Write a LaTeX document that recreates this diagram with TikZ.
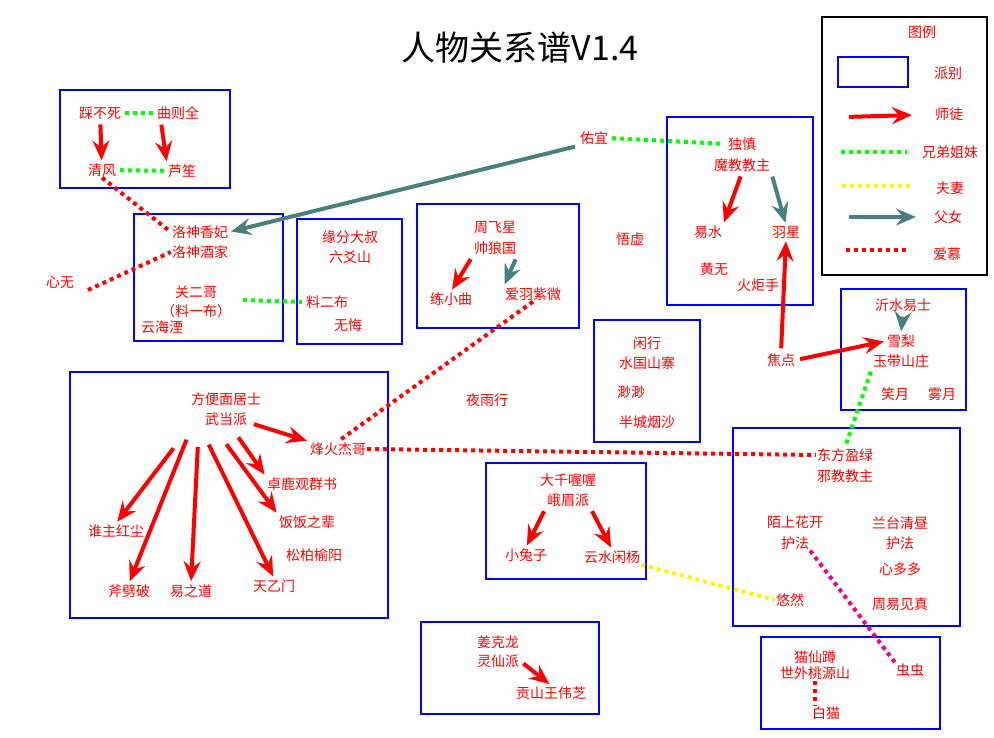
\documentclass[tikz,border=0pt]{standalone}
\usepackage{fontspec}
\setmainfont{Noto Sans CJK SC}
\usetikzlibrary{arrows.meta}
\definecolor{fathercol}{RGB}{72,128,128}
\tikzset{
  person/.style={text=red, inner sep=1pt, font=\fontsize{14}{16}\selectfont, align=center},
  faction/.style={draw=blue, line width=2pt},
  mentor/.style={draw=red, line width=4pt, -{Stealth[length=20pt,width=17pt,inset=7pt]}, shorten <=4pt, shorten >=2pt},
  father/.style={draw=fathercol, line width=4pt, -{Stealth[length=20pt,width=17pt,inset=7pt]}, shorten <=4pt, shorten >=2pt},
  sibling/.style={draw=green, line width=4pt, dash pattern=on 4pt off 4pt, shorten <=3pt, shorten >=3pt},
  spouse/.style={draw=yellow, line width=4pt, dash pattern=on 4pt off 4pt},
  love/.style={draw=red, line width=4pt, dash pattern=on 4pt off 4pt},
  crush/.style={draw=magenta, line width=4pt, dash pattern=on 4pt off 4pt}
}
\begin{document}
\begin{tikzpicture}[x=1pt, y=-1pt]
  \useasboundingbox (0,0) rectangle (994,738);
  \node[font=\fontsize{34}{36}\selectfont] (title) at (520,48) {人物关系谱V1.4};

  % legend
  \draw[black, line width=2.5pt] (822,17) rectangle (987,275);
  \node[person] (lgtitle) at (922,32) {图例};
  \draw[faction] (838,57) rectangle (908,87);
  \node[person] (lgfaction) at (948,73) {派别};
  \coordinate (lga1) at (845,117); \coordinate (lga2) at (914,115);
  \draw[mentor] (lga1) -- (lga2);
  \node[person] (lgmentor) at (949,114) {师徒};
  \coordinate (lgb1) at (838,152); \coordinate (lgb2) at (910,152);
  \draw[sibling] (lgb1) -- (lgb2);
  \node[person] (lgsibling) at (950,152) {兄弟姐妹};
  \coordinate (lgc1) at (842,186); \coordinate (lgc2) at (910,186);
  \draw[spouse] (lgc1) -- (lgc2);
  \node[person] (lgspouse) at (950,188) {夫妻};
  \coordinate (lgd1) at (845,217); \coordinate (lgd2) at (918,217);
  \draw[father] (lgd1) -- (lgd2);
  \node[person] (lgfather) at (948,217) {父女};
  \coordinate (lge1) at (846,250); \coordinate (lge2) at (906,250);
  \draw[love] (lge1) -- (lge2);
  \node[person] (lglove) at (947,254) {爱慕};

  % factions
  \draw[faction] (60,90) rectangle (230,188);
  \draw[faction] (134,214) rectangle (283,341);
  \draw[faction] (297,219) rectangle (402,344);
  \draw[faction] (417,204) rectangle (579,328);
  \draw[faction] (667,117) rectangle (813,305);
  \draw[faction] (841,289) rectangle (966,410);
  \draw[faction] (594,320) rectangle (700,442);
  \draw[faction] (70,372) rectangle (388,618);
  \draw[faction] (486,463) rectangle (646,579);
  \draw[faction] (733,428) rectangle (960,626);
  \draw[faction] (421,622) rectangle (599,714);
  \draw[faction] (761,637) rectangle (940,729);

  % people
  \node[person] (caibusi) at (100,113) {踩不死};
  \node[person] (quzequan) at (178,113) {曲则全};
  \node[person] (qingfeng) at (102,170) {清风};
  \node[person] (lusheng) at (182,171) {芦笙};
  \node[person] (xiangfei) at (200,232) {洛神香妃};
  \node[person] (jiujia) at (200,252) {洛神酒家};
  \node[person] (xinwu) at (60,282) {心无};
  \node[person] (guanerge) at (196,292) {关二哥};
  \node[person] (liaoyibu) at (196,311) {（料一布）};
  \node[person] (yunhaiyan) at (162,327) {云海湮};
  \node[person] (yuanfen) at (350,237) {缘分大叔};
  \node[person] (liuyao) at (350,257) {六爻山};
  \node[person] (liaoerbu) at (327,302) {料二布};
  \node[person] (wuhui) at (348,325) {无悔};
  \node[person] (zhoufeixing) at (495,228) {周飞星};
  \node[person] (shuailang) at (495,248) {帅狼国};
  \node[person] (lianxiaoqu) at (451,299) {练小曲};
  \node[person] (aiyu) at (533,294) {爱羽紫微};
  \node[person] (youyi) at (594,138) {佑宜};
  \node[person] (wuxu) at (630,239) {悟虚};
  \node[person] (dushen) at (742,144) {独慎};
  \node[person] (mojiao) at (742,165) {魔教教主};
  \node[person] (yishui) at (708,232) {易水};
  \node[person] (yuxing) at (786,232) {羽星};
  \node[person] (huangwu) at (714,269) {黄无};
  \node[person] (huoju) at (758,285) {火炬手};
  \node[person] (jiaodian) at (781,360) {焦点};
  \node[person] (yishui2) at (903,305) {沂水易士};
  \node[person] (xueli) at (901,341) {雪梨};
  \node[person] (yudai) at (901,361) {玉带山庄};
  \node[person] (xiaoyue) at (895,394) {笑月};
  \node[person] (wuyue) at (942,394) {雾月};
  \node[person] (xianxing) at (647,343) {闲行};
  \node[person] (shuiguo) at (647,363) {水国山寨};
  \node[person] (miaomiao) at (631,392) {渺渺};
  \node[person] (bancheng) at (647,422) {半城烟沙};
  \node[person] (yeyuxing) at (487,400) {夜雨行};
  \node[person] (fangbian) at (226,399) {方便面居士};
  \node[person] (wudang) at (226,419) {武当派};
  \node[person] (fenghuo) at (338,449) {烽火杰哥};
  \node[person] (zhuolu) at (302,484) {卓鹿观群书};
  \node[person] (fanfan) at (307,522) {饭饭之辈};
  \node[person] (songbai) at (314,555) {松柏榆阳};
  \node[person] (shuizhu) at (116,531) {谁主红尘};
  \node[person] (fupipo) at (129,591) {斧劈破};
  \node[person] (yizhidao) at (191,591) {易之道};
  \node[person] (tianyi) at (274,586) {天乙门};
  \node[person] (daqian) at (568,480) {大千喔喔};
  \node[person] (emei) at (568,500) {峨眉派};
  \node[person] (xiaotu) at (526,555) {小兔子};
  \node[person] (yunshui) at (612,557) {云水闲杨};
  \node[person] (dongfang) at (845,455) {东方盈绿};
  \node[person] (xiejiao) at (845,476) {邪教教主};
  \node[person] (moshang) at (795,522) {陌上花开};
  \node[person] (hufa1) at (795,543) {护法};
  \node[person] (lantai) at (900,523) {兰台清昼};
  \node[person] (hufa2) at (900,543) {护法};
  \node[person] (xinduoduo) at (900,569) {心多多};
  \node[person] (zhouyi) at (900,604) {周易见真};
  \node[person] (youran) at (790,600) {悠然};
  \node[person] (chongchong) at (910,670) {虫虫};
  \node[person] (maoxian) at (815,657) {猫仙蹲};
  \node[person] (shiwai) at (815,673) {世外桃源山};
  \node[person] (baimao) at (826,713) {白猫};
  \node[person] (jiangkelong) at (498,642) {姜克龙};
  \node[person] (lingxian) at (498,661) {灵仙派};
  \node[person] (gongshan) at (551,693) {贡山王伟芝};

  % free ends
  \coordinate (xinwuend) at (88,290);
  \coordinate (guanend) at (240,300);
  \coordinate (wd1) at (250,423);
  \coordinate (wd2) at (236,434);
  \coordinate (wd3) at (224,441);
  \coordinate (wd4) at (207,441);
  \coordinate (wd5) at (198,443);
  \coordinate (wd6) at (188,436);
  \coordinate (wd7) at (176,445);

  % relations
  \draw[sibling] (caibusi) -- (quzequan);
  \draw[sibling] (qingfeng) -- (lusheng);
  \draw[mentor] (caibusi) -- (qingfeng);
  \draw[mentor] (quzequan.south west) ++(5,0) -- (lusheng.north west);
  \draw[love] (qingfeng.south) -- (xiangfei.west);
  \draw[love] (xinwuend) -- (jiujia.west);
  \draw[father] (youyi.south west) -- (xiangfei.east);
  \draw[sibling] (guanend) -- (liaoerbu.west);
  \draw[mentor] (shuailang.south west) -- (lianxiaoqu.north);
  \draw[father] (shuailang.south east) -- (aiyu.north west);
  \draw[love] (aiyu.south) -- (fenghuo.north);
  \draw[sibling] (youyi.east) -- (dushen.west);
  \draw[mentor] (mojiao.south) -- (yishui.north east);
  \draw[father] (mojiao.south east) -- (yuxing.north);
  \draw[mentor] (jiaodian.north) -- (yuxing.south);
  \draw[mentor] (jiaodian.east) -- (xueli.west);
  \draw[father] (yishui2.south) -- (xueli.north);
  \draw[sibling] (yudai.south west) -- (dongfang.north);
  \draw[love] (fenghuo.east) -- (dongfang.west);
  \draw[mentor] (wd1) -- (fenghuo.north west);
  \draw[mentor] (wd2) -- (zhuolu.north west);
  \draw[mentor] (wd3) -- (fanfan.north west);
  \draw[mentor] (wd4) -- (tianyi.north);
  \draw[mentor] (wd5) -- (yizhidao.north);
  \draw[mentor] (wd6) -- (fupipo.north);
  \draw[mentor] (wd7) -- (shuizhu.north);
  \draw[mentor] (emei.south west) -- (xiaotu.north);
  \draw[mentor] (emei.south east) -- (yunshui.north);
  \draw[mentor] (lingxian.east) -- (gongshan.north);
  \draw[spouse] (yunshui.south east) -- (youran.west);
  \draw[crush] (hufa1.south east) -- (chongchong.north west);
  \draw[love] (shiwai.south) -- (baimao.north -| shiwai.south);
\end{tikzpicture}
\end{document}
